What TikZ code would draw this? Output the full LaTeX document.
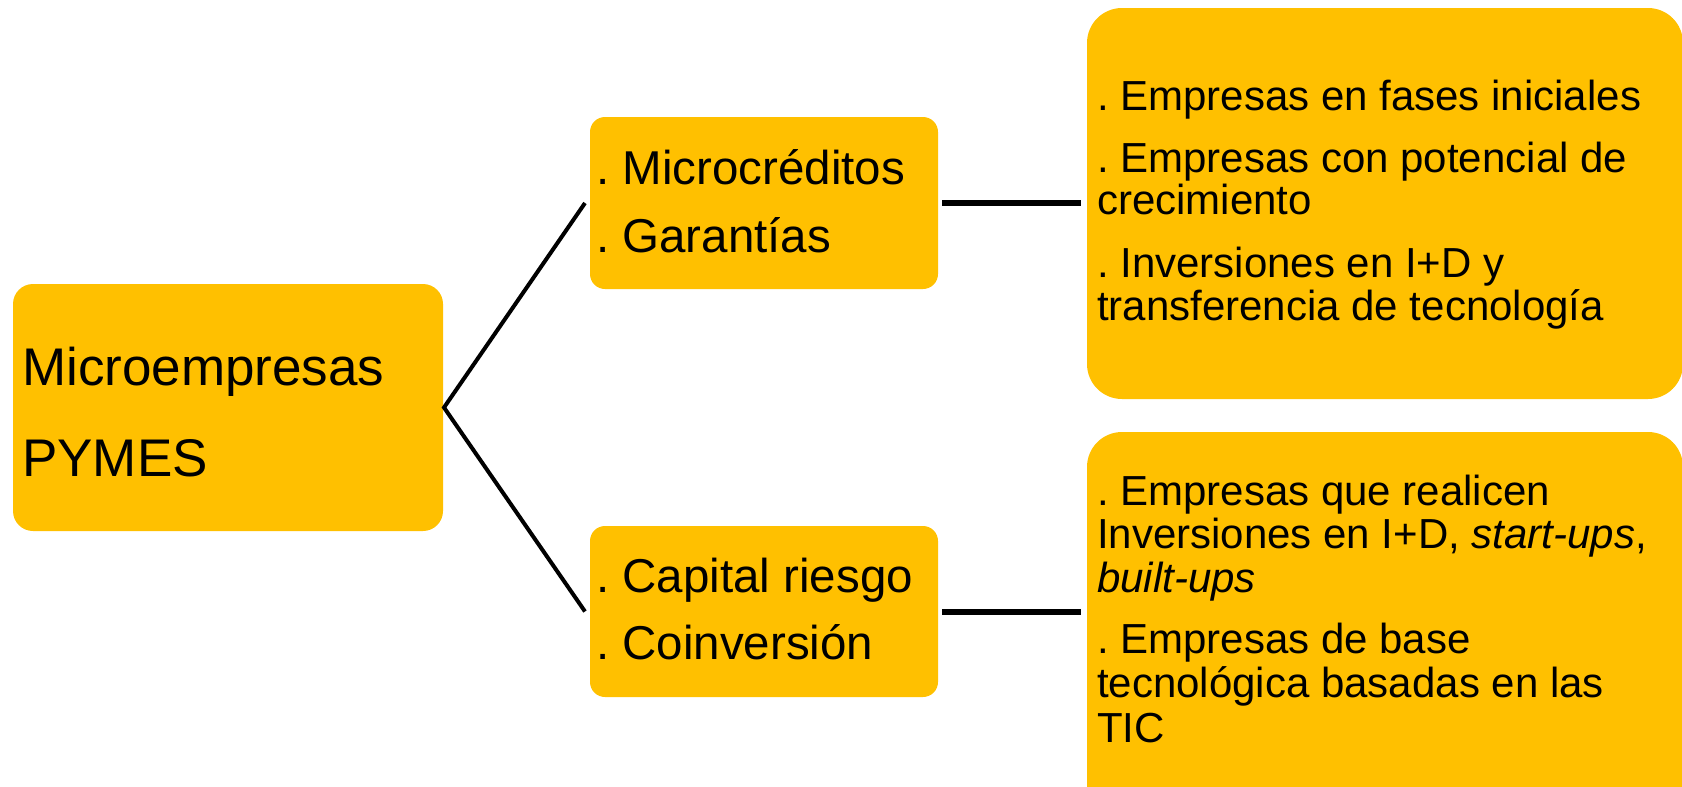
\documentclass[tikz,border=0pt]{standalone}
\usepackage{fontspec}
\setmainfont{Liberation Sans}
\definecolor{gold}{RGB}{255,192,0}
\frenchspacing
\begin{document}
\begin{tikzpicture}[x=1pt,y=-1pt,
  boxst/.style={rectangle, fill=gold, draw=none, inner sep=0pt, outer sep=0pt, anchor=north west},
  big/.style={inner sep=0pt, anchor=base west, font=\fontsize{53}{53}\selectfont},
  mid/.style={inner sep=0pt, anchor=base west, font=\fontsize{47.5}{47.5}\selectfont},
  sml/.style={inner sep=0pt, anchor=base west, font=\fontsize{42}{42}\selectfont},
  diag/.style={draw=black, line width=4pt},
  hline/.style={draw=black, line width=6pt}]
\useasboundingbox (0,0) rectangle (1682,787);
\clip (0,0) rectangle (1682,787);
% boxes
\node[boxst, rounded corners=20pt, minimum width=430pt, minimum height=247pt] (root) at (13,284) {};
\node[boxst, rounded corners=15pt, minimum width=348pt, minimum height=172pt] (m1) at (590,117) {};
\node[boxst, rounded corners=15pt, minimum width=348pt, minimum height=171pt] (m2) at (590,526) {};
\node[boxst, rounded corners=35pt, minimum width=596pt, minimum height=391pt] (r1) at (1087,8) {};
\node[boxst, rounded corners=35pt, minimum width=596pt, minimum height=400pt] (r2) at (1087,432) {};
% texts
\node[big] (t1) at (22,385) {Microempresas};
\node[big] (t2) at (22,476) {PYMES};
\node[mid] (t3) at (596,184) {. Microcréditos};
\node[mid] (t4) at (596,252) {. Garantías};
\node[mid] (t5) at (596,592) {. Capital riesgo};
\node[mid] (t6) at (596,659) {. Coinversión};
\node[sml] (t7) at (1097,110) {. Empresas en fases iniciales};
\node[sml] (t8) at (1097,172) {. Empresas con potencial de};
\node[sml] (t9) at (1097,214) {crecimiento};
\node[sml] (t10) at (1097,277) {. Inversiones en I+D y};
\node[sml] (t11) at (1097,320) {transferencia de tecnología};
\node[sml] (t12) at (1097,505) {. Empresas que realicen};
\node[sml] (t13) at (1097,548) {Inversiones en I+D, \textit{start-ups}, };
\node[sml] (t14) at (1097,592) {\textit{built-ups}};
\node[sml] (t15) at (1097,653) {. Empresas de base};
\node[sml] (t16) at (1097,697) {tecnológica basadas en las};
\node[sml] (t17) at (1097,742) {TIC};
% connectors
\coordinate (e1) at (m1.east -| r1.west);
\coordinate (e2) at (m2.east -| r2.west);
\draw[diag] ([xshift=-5pt]m1.west) -- ([xshift=1pt]root.east) -- ([xshift=-5pt]m2.west);
\draw[hline] ([xshift=4pt]m1.east) -- ([xshift=-6pt]e1);
\draw[hline] ([xshift=4pt]m2.east) -- ([xshift=-6pt]e2);
\end{tikzpicture}
\end{document}
